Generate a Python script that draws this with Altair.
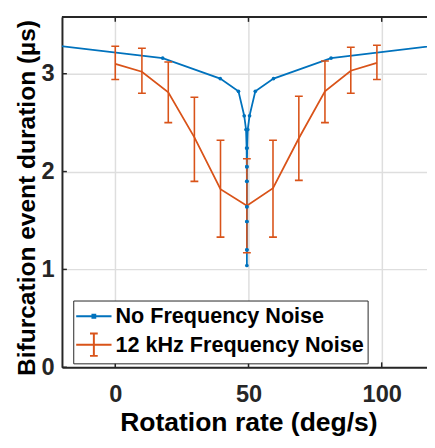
import altair as alt
import pandas as pd

# ---- data ----
blue_x = [-50.6, 17.8, 39.4, 46.24, 48.4, 49.08, 49.3, 49.368, 49.39, 49.3968, 49.399, 49.3997, 49.4,
          49.4003, 49.401, 49.4032, 49.41, 49.432, 49.5, 49.72, 50.4, 52.56, 59.4, 81.0, 149.4]
blue_y = [3.38, 3.16, 2.95, 2.82, 2.57, 2.43, 2.24, 2.05, 1.90, 1.64, 1.49, 1.20, 1.04,
          1.20, 1.49, 1.64, 1.90, 2.05, 2.24, 2.43, 2.57, 2.82, 2.95, 3.16, 3.38]

or_x = [0, 10, 19.9, 29.7, 39.5, 49.4, 59.2, 68.9, 78.7, 88.4, 98.2]
or_mean = [3.10, 3.02, 2.81, 2.35, 1.82, 1.65, 1.83, 2.34, 2.82, 3.03, 3.11]
or_lo = [2.94, 2.80, 2.50, 1.90, 1.33, 1.17, 1.33, 1.91, 2.50, 2.80, 2.94]
or_hi = [3.28, 3.26, 3.12, 2.76, 2.32, 2.13, 2.32, 2.77, 3.13, 3.27, 3.29]

x_ticks = [0, 50, 100]
y_ticks = [0, 1, 2, 3]
series_names = ["No Frequency Noise", "12 kHz Frequency Noise"]

BLUE = "#0072BD"
ORANGE = "#D95319"
AX = "#262626"
FONT = "Liberation Sans"

W, H = 372, 357

blue_df = pd.DataFrame({"x": blue_x, "y": blue_y})
or_df = pd.DataFrame({"x": or_x, "m": or_mean, "lo": or_lo, "hi": or_hi})
xt_df = pd.DataFrame({"x": x_ticks})
yt_df = pd.DataFrame({"y": y_ticks})
leg_df = pd.DataFrame({"series": series_names})

xscale = alt.Scale(domain=[-20, 117], nice=False, zero=False)
yscale = alt.Scale(domain=[0, 3.58], nice=False, zero=False)

xaxis = alt.Axis(values=x_ticks, grid=True, gridColor="#dedede", gridWidth=1.5,
                 domainColor=AX, domainWidth=2, ticks=False, labelPadding=16,
                 labelFont=FONT, labelFontSize=24, labelFontWeight="bold", labelColor=AX,
                 title="Rotation rate (deg/s)", titleFont=FONT, titleFontSize=27,
                 titleFontWeight="bold", titleColor="#000000", titlePadding=3, titleX=190)
yaxis = alt.Axis(values=y_ticks, grid=True, gridColor="#dedede", gridWidth=1.5,
                 domainColor=AX, domainWidth=2, ticks=False, labelPadding=8,
                 labelFont=FONT, labelFontSize=24, labelFontWeight="bold", labelColor=AX,
                 title="Bifurcation event duration (µs)", titleFont=FONT, titleFontSize=25,
                 titleFontWeight="bold", titleColor="#000000", titlePadding=2, titleY=184)

X = alt.X("x:Q", scale=xscale, axis=xaxis)
Y = alt.Y("y:Q", scale=yscale, axis=yaxis)

# inward tick marks
bot_ticks = alt.Chart(xt_df).mark_rule(color=AX, strokeWidth=1.5).encode(
    x=alt.X("x:Q", scale=xscale, axis=xaxis), y=alt.value(H), y2=alt.value(H - 5))
top_ticks = alt.Chart(xt_df).mark_rule(color=AX, strokeWidth=1.5).encode(
    x=alt.X("x:Q", scale=xscale, axis=xaxis), y=alt.value(0), y2=alt.value(5))
left_ticks = alt.Chart(yt_df).mark_rule(color=AX, strokeWidth=1.5).encode(
    y=alt.Y("y:Q", scale=yscale, axis=yaxis), x=alt.value(0), x2=alt.value(5))
top_border = alt.Chart(xt_df).mark_rule(color=AX, strokeWidth=2).encode(
    x=alt.value(0), x2=alt.value(W), y=alt.value(0))

blue_line = alt.Chart(blue_df).mark_line(color=BLUE, strokeWidth=1.8, clip=True).encode(
    x=X, y=Y, order="x:Q")
blue_pts = alt.Chart(blue_df).mark_circle(color=BLUE, size=14, opacity=1, clip=True).encode(
    x=X, y=Y)

or_line = alt.Chart(or_df).mark_line(color=ORANGE, strokeWidth=1.8, clip=True).encode(
    x=X, y=alt.Y("m:Q", scale=yscale, axis=yaxis))
or_bar = alt.Chart(or_df).mark_rule(color=ORANGE, strokeWidth=1.6, clip=True).encode(
    x=X, y=alt.Y("lo:Q", scale=yscale, axis=yaxis), y2="hi:Q")
or_cap_lo = alt.Chart(or_df).mark_tick(color=ORANGE, orient="horizontal", size=8, thickness=1.6,
                                       opacity=1, clip=True).encode(
    x=X, y=alt.Y("lo:Q", scale=yscale, axis=yaxis))
or_cap_hi = alt.Chart(or_df).mark_tick(color=ORANGE, orient="horizontal", size=8, thickness=1.6,
                                       opacity=1, clip=True).encode(
    x=X, y=alt.Y("hi:Q", scale=yscale, axis=yaxis))

# legend symbols (custom paths, r = 12 px per unit)
blue_sym = "M-1.5,0H1.5M-0.12,-0.12H0.12V0.12H-0.12Z"
orange_sym = "M-1.5,0H1.5M0,-0.95V0.95M-0.33,-0.95H0.33M-0.33,0.95H0.33"

legend_layer = alt.Chart(leg_df).mark_point(opacity=1, strokeWidth=2, filled=False, size=576).encode(
    color=alt.Color("series:N", scale=alt.Scale(domain=series_names, range=[BLUE, ORANGE]),
                    legend=alt.Legend(title=None, orient="none", legendX=11.5, legendY=289,
                                      fillColor="white", strokeColor=AX, padding=3,
                                      labelFont=FONT, labelFontSize=22, labelFontWeight="bold",
                                      labelColor="#000000", labelOffset=9, symbolOffset=5,
                                      symbolStrokeWidth=2, symbolSize=576, rowPadding=2,
                                      labelLimit=400)),
    shape=alt.Shape("series:N", scale=alt.Scale(domain=series_names, range=[blue_sym, orange_sym])),
).transform_filter("false")

chart = alt.layer(
    bot_ticks, top_ticks, left_ticks, top_border,
    blue_line, or_line, or_bar, or_cap_lo, or_cap_hi, blue_pts, legend_layer
).properties(
    width=W, height=H,
    autosize=alt.AutoSizeParams(type="none"),
    padding={"left": 55, "top": 5, "right": 0, "bottom": 70},
).configure_view(stroke=None)

chart.save("out.html", embed_options={"renderer": "svg", "actions": False})
